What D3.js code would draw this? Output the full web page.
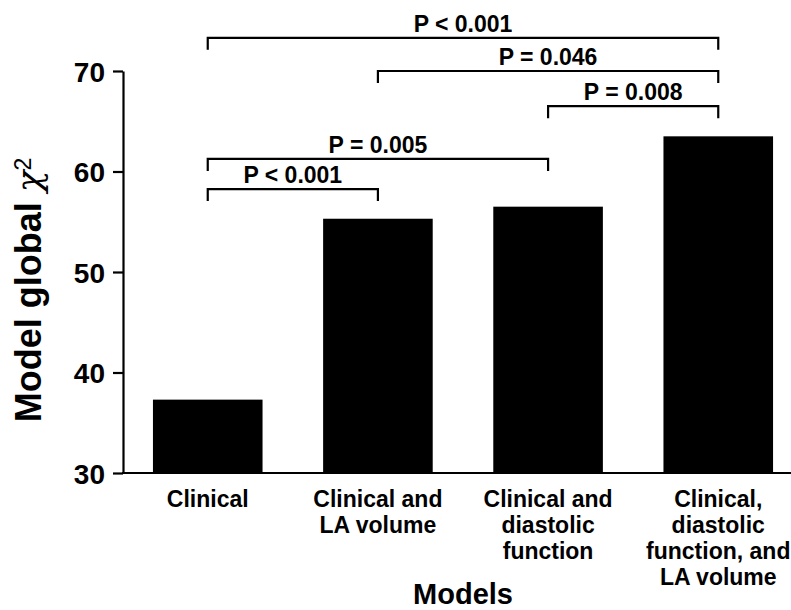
<!DOCTYPE html>
<html>
<head>
<meta charset="utf-8">
<script src="https://cdn.jsdelivr.net/npm/d3@7"></script>
<style>
  body { margin: 0; background: #fff; }
  text { font-family: "Liberation Sans", Arial, Helvetica, sans-serif; font-weight: bold; fill: #000; }
</style>
</head>
<body>
<svg id="chart" width="791" height="610"></svg>
<script>
// data
var models = ["Clinical", "Clinical and LA volume", "Clinical and diastolic function",
              "Clinical, diastolic function, and LA volume"]
var modelLines = [["Clinical"], ["Clinical and", "LA volume"], ["Clinical and", "diastolic", "function"],
                  ["Clinical,", "diastolic", "function, and", "LA volume"]]
var chiSquare = [37.3, 55.3, 56.5, 63.5]
var yTicks = [30, 40, 50, 60, 70]
// pairwise comparisons: [from model, to model, label]
var comparisons = [[0, 3, "P < 0.001"], [1, 3, "P = 0.046"], [2, 3, "P = 0.008"],
                   [0, 2, "P = 0.005"], [0, 1, "P < 0.001"]]
var bracketLevel = [73.3, 70.0, 66.5, 61.25, 58.25]

var svg = d3.select("#chart")
var width = 791

var x = d3.scaleBand().domain(models).range([123, 803]).paddingInner(0.356).paddingOuter(0.176)
var y = d3.scaleLinear().domain([30, 70]).range([473, 71])

// bars
svg.selectAll("rect.bar")
  .data(chiSquare)
  .enter()
  .append("rect")
  .attr("class", "bar")
  .attr("x", (d, i) => x(models[i]))
  .attr("y", d => y(d))
  .attr("width", x.bandwidth())
  .attr("height", d => y(30) - y(d))
  .style("fill", "#000")

// y axis
var yAxis = d3.axisLeft(y).tickValues(yTicks).tickSize(10).tickSizeOuter(0).tickPadding(8)
var gy = svg.append("g").attr("transform", "translate(123,0)").call(yAxis)
gy.select(".domain").attr("stroke-width", 2.2)
gy.selectAll(".tick line").attr("stroke-width", 2.2)
gy.selectAll(".tick text").style("font-size", "28px").attr("dy", "0.36em")

// baseline
svg.append("line")
  .attr("x1", 122).attr("x2", width)
  .attr("y1", y(30)).attr("y2", y(30))
  .attr("stroke", "#000").attr("stroke-width", 2.2)

// category labels
var cat = svg.selectAll("text.cat")
  .data(modelLines)
  .enter()
  .append("text")
  .attr("class", "cat")
  .attr("text-anchor", "middle")
  .style("font-size", "23px")
cat.selectAll("tspan")
  .data((d, i) => d.map(t => ({t: t, i: i})))
  .enter()
  .append("tspan")
  .attr("x", d => x(models[d.i]) + x.bandwidth() / 2)
  .attr("y", (d, j) => 507 + j * 26)
  .text(d => d.t)

// axis titles
svg.append("text")
  .attr("x", (123 + 803) / 2).attr("y", 604)
  .attr("text-anchor", "middle")
  .style("font-size", "29px")
  .text("Models")

var yt = svg.append("text")
  .attr("transform", "translate(41,290) rotate(-90)")
  .attr("text-anchor", "middle")
  .style("font-size", "36px")
yt.append("tspan").text("Model global ")
yt.append("tspan").text("χ").style("font-weight", "normal").style("font-family", "DejaVu Serif").style("font-style", "italic")
yt.append("tspan").text("2").attr("dy", "-0.45em").style("font-size", "23px").style("font-weight", "normal")

// significance brackets
var cx = i => x(models[i]) + x.bandwidth() / 2
var br = svg.selectAll("g.bracket")
  .data(comparisons)
  .enter()
  .append("g")
  .attr("class", "bracket")
br.append("path")
  .attr("d", (d, i) => {
    var yy = y(bracketLevel[i])
    return "M" + cx(d[0]) + "," + (yy + 12) + "V" + yy + "H" + cx(d[1]) + "V" + (yy + 12)
  })
  .attr("fill", "none").attr("stroke", "#000").attr("stroke-width", 2.2)
br.append("text")
  .attr("x", d => (cx(d[0]) + cx(d[1])) / 2)
  .attr("y", (d, i) => y(bracketLevel[i]) - 6)
  .attr("text-anchor", "middle")
  .style("font-size", "23px")
  .text(d => d[2])
</script>
</body>
</html>
